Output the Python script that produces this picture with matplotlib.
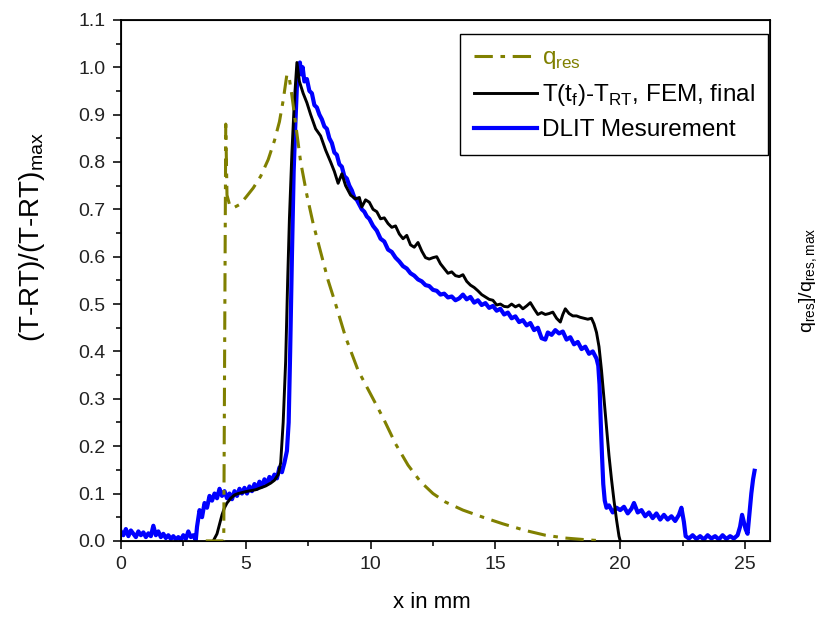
import matplotlib
matplotlib.use("Agg")
import matplotlib.pyplot as plt
from matplotlib.ticker import MultipleLocator

plt.rcParams['font.family'] = ['Liberation Sans', 'DejaVu Sans']

# -------- data -----------------------------------
q_x = [3.4, 4.12, 4.16, 4.2, 4.25, 4.35, 4.5, 4.75, 5.0, 5.3, 5.6, 5.9, 6.15,
       6.35, 6.5, 6.65, 6.75, 6.85, 7.0, 7.2, 7.45, 7.7, 8.0, 8.3, 8.6, 9.0,
       9.5, 10.0, 10.5, 11.0, 11.5, 12.0, 12.5, 13.0, 13.7, 14.5, 15.3, 16.2,
       17.0, 17.8, 18.5, 19.3]
q_y = [0.0, 0.0, 0.45, 0.88, 0.73, 0.71, 0.703, 0.71, 0.725, 0.745, 0.77,
       0.805, 0.845, 0.885, 0.93, 0.985, 0.975, 0.94, 0.88, 0.8, 0.73, 0.67,
       0.61, 0.55, 0.5, 0.43, 0.36, 0.31, 0.26, 0.205, 0.16, 0.125, 0.1,
       0.082, 0.065, 0.05, 0.036, 0.022, 0.012, 0.006, 0.003, 0.0]

fem_x = [3.7, 3.85, 3.95, 4.05, 4.15, 4.25, 4.4, 4.55, 4.7, 4.85, 5.0, 5.2,
         5.4, 5.6, 5.8, 6.0, 6.15, 6.3, 6.4, 6.5, 6.6, 6.68, 6.75, 6.85, 6.95,
         7.05, 7.15, 7.3, 7.45, 7.6, 7.8, 8.0, 8.2, 8.4, 8.55, 8.7, 8.85, 9.0,
         9.2, 9.4, 9.55, 9.65, 9.8, 9.95, 10.1, 10.25, 10.4, 10.55, 10.7,
         10.85, 11.0, 11.15, 11.3, 11.45, 11.6, 11.75, 11.9, 12.05, 12.2,
         12.35, 12.5, 12.65, 12.8, 12.95, 13.1, 13.25, 13.4, 13.55, 13.7,
         13.85, 14.0, 14.15, 14.3, 14.45, 14.6, 14.75, 14.9, 15.05, 15.2,
         15.35, 15.5, 15.65, 15.8, 15.95, 16.1, 16.25, 16.4, 16.55, 16.7,
         16.85, 17.0, 17.15, 17.3, 17.45, 17.6, 17.7, 17.8, 17.95, 18.1,
         18.25, 18.4, 18.55, 18.7, 18.85, 18.95, 19.05, 19.15, 19.25, 19.35,
         19.45, 19.55, 19.65, 19.75, 19.85, 19.95, 20.0]
fem_y = [0.0, 0.015, 0.035, 0.055, 0.07, 0.08, 0.09, 0.097, 0.1, 0.102,
         0.104, 0.106, 0.108, 0.112, 0.116, 0.122, 0.128, 0.14, 0.165, 0.25,
         0.38, 0.55, 0.68, 0.82, 0.93, 1.01, 0.97, 0.945, 0.925, 0.9, 0.87,
         0.855, 0.825, 0.8, 0.78, 0.755, 0.775, 0.75, 0.73, 0.722, 0.725,
         0.705, 0.72, 0.715, 0.7, 0.695, 0.68, 0.682, 0.67, 0.662, 0.665,
         0.648, 0.638, 0.645, 0.625, 0.62, 0.63, 0.612, 0.598, 0.595, 0.598,
         0.6, 0.585, 0.575, 0.565, 0.568, 0.56, 0.558, 0.562, 0.548, 0.54,
         0.535, 0.528, 0.52, 0.515, 0.51, 0.508, 0.498, 0.5, 0.495, 0.494,
         0.5, 0.494, 0.498, 0.49, 0.496, 0.503, 0.49, 0.478, 0.482, 0.478,
         0.48, 0.483, 0.47, 0.462, 0.478, 0.49, 0.48, 0.475, 0.475, 0.472,
         0.47, 0.468, 0.47, 0.458, 0.44, 0.41, 0.36, 0.3, 0.24, 0.18, 0.13,
         0.085, 0.045, 0.01, 0.0]

dlit_x = [0.0, 0.1, 0.2, 0.3, 0.4, 0.5, 0.6, 0.7, 0.8, 0.9, 1.0, 1.1, 1.2,
          1.3, 1.4, 1.5, 1.6, 1.7, 1.8, 1.9, 2.0, 2.1, 2.2, 2.3, 2.4, 2.5,
          2.6, 2.7, 2.8, 2.9, 3.0, 3.05, 3.15, 3.25, 3.35, 3.45, 3.55, 3.65,
          3.75, 3.85, 3.95, 4.05, 4.15, 4.25, 4.35, 4.45, 4.55, 4.65, 4.75,
          4.85, 4.95, 5.05, 5.15, 5.25, 5.35, 5.45, 5.55, 5.65, 5.75, 5.85,
          5.95, 6.05, 6.15, 6.25, 6.35, 6.45, 6.55, 6.65, 6.72, 6.78, 6.85,
          6.92, 6.98, 7.05, 7.12, 7.17, 7.22, 7.28, 7.35, 7.45, 7.55, 7.65,
          7.75, 7.85, 7.95, 8.05, 8.15, 8.25, 8.35, 8.45, 8.55, 8.65, 8.75,
          8.85, 8.95, 9.05, 9.15, 9.25, 9.35, 9.45, 9.55, 9.65, 9.75, 9.85,
          9.95, 10.1, 10.25, 10.4, 10.55, 10.7, 10.85, 11.0, 11.15, 11.3,
          11.45, 11.6, 11.75, 11.9, 12.05, 12.2, 12.35, 12.5, 12.65, 12.8,
          12.95, 13.1, 13.25, 13.4, 13.55, 13.7, 13.85, 14.0, 14.15, 14.3,
          14.45, 14.6, 14.75, 14.9, 15.05, 15.2, 15.35, 15.5, 15.65, 15.8,
          15.95, 16.1, 16.25, 16.4, 16.55, 16.7, 16.85, 17.0, 17.1, 17.25,
          17.4, 17.55, 17.7, 17.85, 18.0, 18.15, 18.3, 18.45, 18.6, 18.75,
          18.9, 19.05, 19.12, 19.17, 19.22, 19.27, 19.32, 19.38, 19.45, 19.55,
          19.7, 19.85, 20.0, 20.15, 20.3, 20.45, 20.55, 20.7, 20.85, 21.0,
          21.15, 21.3, 21.45, 21.6, 21.75, 21.9, 22.05, 22.2, 22.35, 22.45,
          22.55, 22.62, 22.75, 22.9, 23.05, 23.2, 23.35, 23.5, 23.65, 23.8,
          23.95, 24.1, 24.25, 24.4, 24.55, 24.7, 24.8, 24.88, 24.95, 25.02,
          25.1, 25.18, 25.25, 25.32, 25.38]
dlit_y = [0.02, 0.012, 0.025, 0.01, 0.022, 0.015, 0.008, 0.02, 0.012, 0.018,
          0.008, 0.016, 0.01, 0.032, 0.012, 0.02, 0.008, 0.015, 0.006, 0.012,
          0.004, 0.01, 0.003, 0.008, 0.002, 0.012, 0.004, 0.02, 0.008, 0.012,
          0.002, 0.03, 0.065, 0.05, 0.08, 0.07, 0.095, 0.085, 0.1, 0.09, 0.11,
          0.095, 0.105, 0.09, 0.1, 0.088, 0.105, 0.095, 0.11, 0.1, 0.112, 0.1,
          0.115, 0.105, 0.12, 0.11, 0.125, 0.115, 0.13, 0.12, 0.135, 0.128,
          0.14, 0.132, 0.155, 0.145, 0.165, 0.19, 0.25, 0.4, 0.6, 0.78, 0.87,
          0.96, 1.0, 1.01, 0.985, 1.0, 0.97, 0.975, 0.95, 0.945, 0.92, 0.915,
          0.9, 0.89, 0.875, 0.87, 0.85, 0.84, 0.82, 0.815, 0.795, 0.79, 0.77,
          0.765, 0.75, 0.74, 0.725, 0.72, 0.71, 0.7, 0.695, 0.685, 0.68,
          0.665, 0.655, 0.638, 0.632, 0.615, 0.61, 0.598, 0.59, 0.58, 0.575,
          0.565, 0.56, 0.552, 0.548, 0.54, 0.538, 0.53, 0.528, 0.52, 0.522,
          0.514, 0.516, 0.508, 0.512, 0.52, 0.51, 0.515, 0.503, 0.508, 0.498,
          0.502, 0.492, 0.496, 0.486, 0.49, 0.478, 0.482, 0.47, 0.474, 0.462,
          0.466, 0.455, 0.46, 0.445, 0.45, 0.428, 0.425, 0.44, 0.435, 0.445,
          0.438, 0.442, 0.425, 0.43, 0.415, 0.42, 0.405, 0.41, 0.395, 0.4,
          0.385, 0.37, 0.33, 0.25, 0.18, 0.12, 0.085, 0.07, 0.075, 0.06, 0.07,
          0.065, 0.072, 0.058, 0.068, 0.08, 0.06, 0.065, 0.052, 0.06, 0.048,
          0.058, 0.045, 0.055, 0.045, 0.052, 0.042, 0.055, 0.07, 0.04, 0.01,
          0.005, 0.012, 0.004, 0.01, 0.003, 0.012, 0.005, 0.01, 0.003, 0.012,
          0.004, 0.01, 0.005, 0.012, 0.03, 0.055, 0.04, 0.025, 0.015, 0.06,
          0.1, 0.13, 0.148]

# -------- plot ----------
fig = plt.figure(figsize=(8.28, 6.21), dpi=100)
ax = fig.add_axes([0.146, 0.129, 0.784, 0.839])

ax.plot(dlit_x, dlit_y, color='#0000ff', lw=3.0, label='DLIT Mesurement', zorder=2)
ax.plot(fem_x, fem_y, color='black', lw=2.1,
        label=r'T(t$_\mathregular{f}$)-T$_\mathregular{RT}$, FEM, final', zorder=3)
ax.plot(q_x, q_y, color='#808000', lw=2.2, dashes=[6, 2.5, 1.5, 2.5],
        label=r'q$_\mathregular{res}$', zorder=4)

ax.set_xlim(0, 26)
ax.set_ylim(0, 1.1)
ax.xaxis.set_major_locator(MultipleLocator(5))
ax.xaxis.set_minor_locator(MultipleLocator(2.5))
ax.yaxis.set_major_locator(MultipleLocator(0.1))
ax.yaxis.set_minor_locator(MultipleLocator(0.05))
ax.yaxis.set_major_formatter(plt.FormatStrFormatter('%.1f'))
ax.tick_params(which='both', direction='out', top=False, right=False,
               labelsize=14, width=1.3, colors='#222222', pad=5)
ax.tick_params(which='major', length=6)
ax.tick_params(which='minor', length=3.5)
for s in ax.spines.values():
    s.set_linewidth(1.3)

ax.set_xlabel('x in mm', fontsize=16)
ax.xaxis.set_label_coords(0.479, -0.098)
ax.set_ylabel(r'(T-RT)/(T-RT)$_\mathregular{max}$', fontsize=20)
ax.yaxis.set_label_coords(-0.114, 0.583)

ax2 = ax.twinx()
ax2.set_yticks([])
ax2.set_ylabel(r'q$_\mathregular{res}$]/q$_\mathregular{res,max}$', fontsize=14, labelpad=20)

h, l = ax.get_legend_handles_labels()
leg = ax.legend(h[::-1], l[::-1], loc='upper right', bbox_to_anchor=(0.997, 0.973),
                fontsize=17.5, frameon=True, fancybox=False, edgecolor='black',
                framealpha=1, handlelength=2.6, handletextpad=0.2,
                borderpad=0.55, labelspacing=0.45, borderaxespad=0)
leg.get_frame().set_linewidth(1.0)
leg.get_texts()[0].set_color('#808000')

fig.savefig('out.png', dpi=100)
